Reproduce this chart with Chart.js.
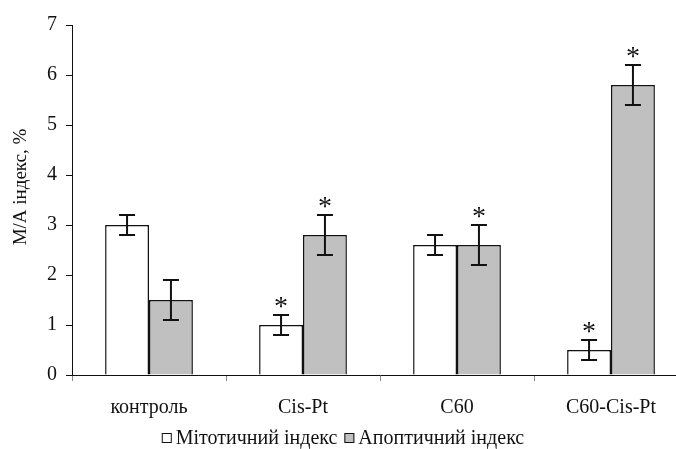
<!DOCTYPE html>
<html>
<head>
<meta charset="utf-8">
<script src="https://cdn.jsdelivr.net/npm/chart.js@4.4.1/dist/chart.umd.min.js"></script>
<style>
  html, body { margin: 0; padding: 0; background: #fff; overflow: hidden; }
  #wrap { position: relative; width: 690px; height: 449px; }
</style>
</head>
<body>
<div id="wrap"><canvas id="c" width="690" height="449"></canvas></div>
<script>
// Categories and measured indices (mean ± error), %
const categories = ['контроль', 'Cis-Pt', 'C60', 'C60-Cis-Pt'];
const mitoticIndex = [3.0, 1.0, 2.6, 0.5];
const mitoticError = [0.2, 0.2, 0.2, 0.2];
const apoptoticIndex = [1.5, 2.8, 2.6, 5.8];
const apoptoticError = [0.4, 0.4, 0.4, 0.4];
// significance markers (*)
const mitoticSignificant = [false, true, false, true];
const apoptoticSignificant = [false, true, true, true];
const yTickValues = [0, 1, 2, 3, 4, 5, 6, 7];
const seriesNames = ['Мітотичний індекс', 'Апоптичний індекс'];
const yTitle = 'M/A індекс, %';

const FONT = "'Liberation Serif', 'Times New Roman', serif";

const errors = [mitoticError, apoptoticError];
const marks = [mitoticSignificant, apoptoticSignificant];

// error bars and asterisks above them
const errorBarPlugin = {
  id: 'errorBars',
  afterDatasetsDraw(chart) {
    const ctx = chart.ctx;
    const y = chart.scales.y;
    chart.data.datasets.forEach((ds, di) => {
      const meta = chart.getDatasetMeta(di);
      meta.data.forEach((bar, i) => {
        const v = ds.data[i];
        const e = errors[di][i];
        const yTop = y.getPixelForValue(v + e);
        const yBot = y.getPixelForValue(v - e);
        const x = bar.x;
        ctx.save();
        ctx.strokeStyle = '#111';
        ctx.lineWidth = 2;
        ctx.beginPath();
        ctx.moveTo(x, yTop); ctx.lineTo(x, yBot);
        ctx.moveTo(x - 8, yTop); ctx.lineTo(x + 8, yTop);
        ctx.moveTo(x - 8, yBot); ctx.lineTo(x + 8, yBot);
        ctx.stroke();
        if (marks[di][i]) {
          ctx.fillStyle = '#111';
          ctx.font = '28px ' + FONT;
          ctx.textAlign = 'center';
          ctx.textBaseline = 'alphabetic';
          ctx.fillText('*', x, yTop);
        }
        ctx.restore();
      });
    });
  }
};

// y-axis title and bottom legend
const decorPlugin = {
  id: 'decor',
  afterDraw(chart) {
    const ctx = chart.ctx;
    const area = chart.chartArea;
    ctx.save();
    ctx.fillStyle = '#111';
    ctx.font = '19px ' + FONT;
    ctx.translate(21, (area.top + area.bottom) / 2 - 13);
    ctx.rotate(-Math.PI / 2);
    ctx.textAlign = 'center';
    ctx.textBaseline = 'middle';
    ctx.fillText(yTitle, 0, 0);
    ctx.restore();

    ctx.save();
    ctx.font = '20px ' + FONT;
    ctx.textBaseline = 'middle';
    const box = 10, gap = 4, sep = 7;
    const widths = seriesNames.map(n => box + gap + ctx.measureText(n).width);
    const total = widths.reduce((a, b) => a + b, 0) + sep * (widths.length - 1);
    let x = 343 - total / 2;
    const yc = 438;
    chart.data.datasets.forEach((ds, i) => {
      ctx.fillStyle = ds.backgroundColor;
      ctx.fillRect(x, yc - box / 2, box, box);
      ctx.strokeStyle = '#111';
      ctx.lineWidth = 1;
      ctx.strokeRect(x + 0.5, yc - box / 2 + 0.5, box - 1, box - 1);
      ctx.fillStyle = '#111';
      ctx.textAlign = 'left';
      ctx.fillText(seriesNames[i], x + box + gap, yc + 1);
      x += widths[i] + sep;
    });
    ctx.restore();
  }
};

new Chart(document.getElementById('c'), {
  type: 'bar',
  data: {
    labels: categories,
    datasets: [
      { label: seriesNames[0], data: mitoticIndex, backgroundColor: '#ffffff', borderColor: '#111', borderWidth: 1.5 },
      { label: seriesNames[1], data: apoptoticIndex, backgroundColor: '#c0c0c0', borderColor: '#111', borderWidth: 1.5 }
    ]
  },
  options: {
    responsive: false,
    animation: false,
    events: [],
    layout: { padding: { top: 25, right: 2, left: 0, bottom: 24 } },
    datasets: { bar: { categoryPercentage: 0.57, barPercentage: 1.0 } },
    plugins: { legend: { display: false }, tooltip: { enabled: false } },
    scales: {
      x: {
        grid: { drawOnChartArea: false, offset: true, tickLength: 6, color: '#888' },
        border: { color: '#111', width: 1 },
        ticks: { color: '#111', font: { family: FONT, size: 20 }, padding: 15, maxRotation: 0 },
        afterFit(s) { s.height = 50; }
      },
      y: {
        min: 0, max: 7,
        afterBuildTicks(s) { s.ticks = yTickValues.map(v => ({ value: v })); },
        grid: { drawOnChartArea: false, tickLength: 6, color: '#111' },
        border: { color: '#111', width: 1 },
        ticks: { color: '#111', font: { family: FONT, size: 20 }, padding: 9 },
        afterFit(s) { s.width = 72; }
      }
    }
  },
  plugins: [errorBarPlugin, decorPlugin]
});
</script>
</body>
</html>
